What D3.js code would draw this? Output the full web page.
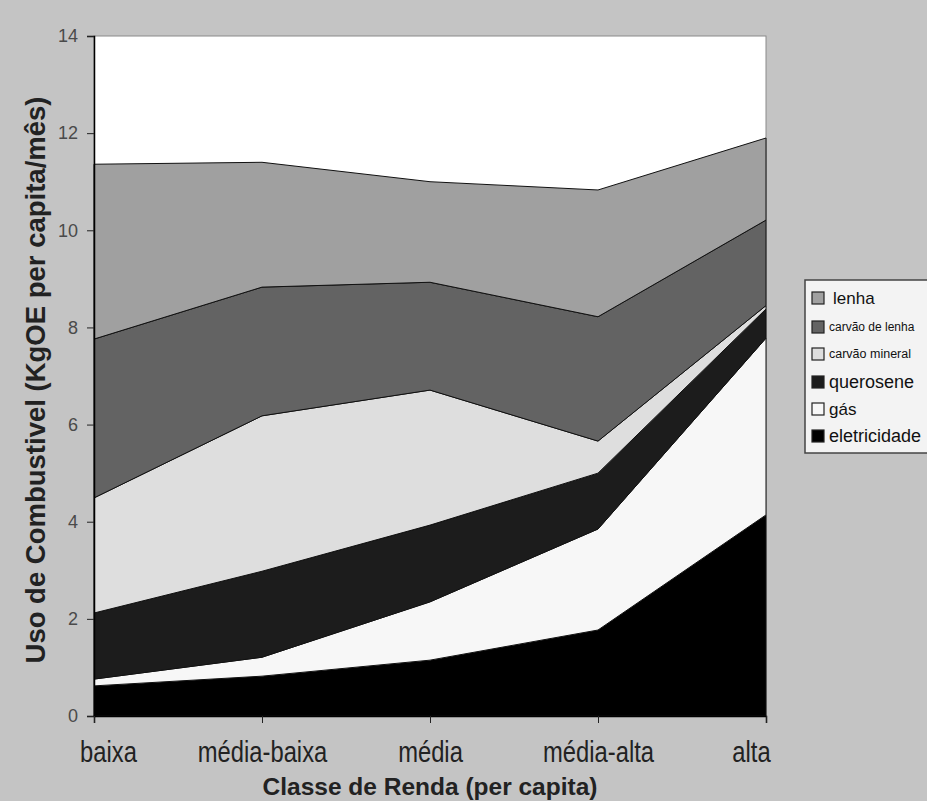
<!DOCTYPE html>
<html>
<head>
<meta charset="utf-8">
<script src="https://cdn.jsdelivr.net/npm/d3@7"></script>
<style>
  html, body { margin: 0; padding: 0; background: #c4c4c4; }
  svg { display: block; }
</style>
</head>
<body>
<svg id="chart" width="927" height="801"></svg>
<script>
// Income classes (x axis)
const classes = ["baixa", "média-baixa", "média", "média-alta", "alta"];

// Fuel use per layer, KgOE per capita/month, stacked bottom to top
const eletricidade   = [0.62, 0.82, 1.15, 1.77, 4.14];
const gas            = [0.14, 0.39, 1.20, 2.08, 3.64];
const querosene      = [1.36, 1.77, 1.58, 1.15, 0.60];
const carvaoMineral  = [2.37, 3.20, 2.78, 0.66, 0.07];
const carvaoLenha    = [3.27, 2.65, 2.22, 2.56, 1.76];
const lenha          = [3.60, 2.57, 2.07, 2.61, 1.69];

const seriesNames = ["eletricidade", "gás", "querosene", "carvão mineral", "carvão de lenha", "lenha"];
const seriesValues = [eletricidade, gas, querosene, carvaoMineral, carvaoLenha, lenha];
const seriesColors = ["#000000", "#f7f7f7", "#1c1c1c", "#dedede", "#636363", "#a0a0a0"];

const yTicks = [0, 2, 4, 6, 8, 10, 12, 14];

const FONT = "Liberation Sans, Arial, sans-serif";
const svg = d3.select("#chart");
const margin = { left: 94, right: 161, top: 36, bottom: 85 };
const W = 927, H = 801;

const x = d3.scalePoint().domain(classes).range([margin.left, W - margin.right]);
const y = d3.scaleLinear().domain([0, 14]).range([H - margin.bottom, margin.top]);

// Table for d3.stack built from the series arrays
const table = classes.map((c, i) => {
  const row = { classe: c };
  seriesNames.forEach((n, k) => { row[n] = seriesValues[k][i]; });
  return row;
});
const stacked = d3.stack().keys(seriesNames)(table);

// Plot background
svg.append("rect")
  .attr("x", margin.left).attr("y", margin.top)
  .attr("width", (W - margin.right) - margin.left)
  .attr("height", (H - margin.bottom) - margin.top)
  .attr("fill", "#ffffff")
  .attr("stroke", "#8a8a8a").attr("stroke-width", 1);

const area = d3.area()
  .x(d => x(d.data.classe))
  .y0(d => y(d[0]))
  .y1(d => y(d[1]));

svg.append("g").selectAll("path")
  .data(stacked)
  .join("path")
  .attr("d", area)
  .attr("fill", (d, i) => seriesColors[i])
  .attr("stroke", "#111")
  .attr("stroke-width", 1)
  .attr("stroke-linejoin", "round");

// Axes
const yAxis = d3.axisLeft(y).tickValues(yTicks).tickSize(7).tickPadding(9);
const gy = svg.append("g").attr("transform", `translate(${margin.left},0)`).call(yAxis);
gy.select(".domain").attr("stroke", "#000").attr("stroke-width", 1.5);
gy.selectAll(".tick line").attr("stroke", "#222");
gy.selectAll(".tick text")
  .attr("font-family", FONT)
  .attr("font-size", 18).attr("fill", "#4a4a4a");

const xAxis = d3.axisBottom(x).tickSize(7).tickPadding(18);
const gx = svg.append("g").attr("transform", `translate(0,${H - margin.bottom})`).call(xAxis);
gx.select(".domain").attr("stroke", "#000").attr("stroke-width", 1.5);
gx.selectAll(".tick line").attr("stroke", "#222");
// end labels sit a little inside the axis ends; labels use a narrow face
const labelShift = { "baixa": 14, "alta": -15 };
gx.selectAll(".tick text")
  .attr("font-family", FONT)
  .attr("font-size", 29).attr("fill", "#222")
  .attr("transform", d => `translate(${labelShift[d] || 0},0) scale(0.82,1)`);

// Axis titles
svg.append("text")
  .attr("transform", `translate(45,380) rotate(-90)`)
  .attr("text-anchor", "middle")
  .attr("font-family", FONT)
  .attr("font-weight", "bold").attr("font-size", 27.5).attr("fill", "#222")
  .text("Uso de Combustivel (KgOE per capita/mês)");

svg.append("text")
  .attr("x", 430).attr("y", 795)
  .attr("text-anchor", "middle")
  .attr("font-family", FONT)
  .attr("font-weight", "bold").attr("font-size", 24.5).attr("fill", "#222")
  .text("Classe de Renda (per capita)");

// Legend (top entry = top layer)
const legend = svg.append("g").attr("transform", "translate(805,280)");
legend.append("rect")
  .attr("x", 0).attr("y", 0).attr("width", 140).attr("height", 173)
  .attr("fill", "#f3f3f3").attr("stroke", "#444").attr("stroke-width", 1.5);

const legendRows = seriesNames.map((n, i) => ({ name: n, color: seriesColors[i] })).reverse();
const legendSizes = [17, 12, 12.5, 18, 17, 18];
const rowY = [18, 47, 74, 102, 129, 156];
legendRows.forEach((r, i) => {
  const g = legend.append("g").attr("transform", `translate(0,${rowY[i]})`);
  g.append("rect").attr("x", 7).attr("y", -6).attr("width", 12).attr("height", 12)
    .attr("fill", r.color).attr("stroke", "#222").attr("stroke-width", 1.2);
  g.append("text").attr("x", i === 0 ? 28 : 24).attr("y", 0).attr("dy", "0.35em")
    .attr("font-family", FONT)
    .attr("font-size", legendSizes[i]).attr("fill", "#111")
    .text(r.name);
});
</script>
</body>
</html>
